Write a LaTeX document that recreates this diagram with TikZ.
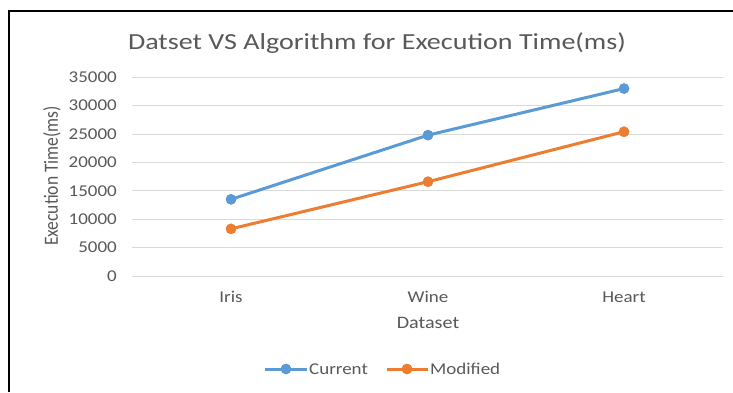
\documentclass[tikz,border=0pt]{standalone}
\usepackage{fontspec}
\setmainfont{Carlito}
\definecolor{cblue}{HTML}{5B9BD5}
\definecolor{corange}{HTML}{ED7D31}
\definecolor{grid}{HTML}{D9D9D9}
\definecolor{txt}{HTML}{595959}
\newcommand\widetxt[1]{\scalebox{1.15}[1]{#1}}
\newcommand\widetitle[1]{\scalebox{1.22}[1]{#1}}
\tikzset{
  gridline/.style={draw=grid, line width=1pt},
  ticklbl/.style={text=txt, font=\fontsize{16.5}{16.5}\selectfont, anchor=east, inner sep=0pt},
  catlbl/.style={text=txt, font=\fontsize{16.5}{16.5}\selectfont, inner sep=0pt},
  axtitle/.style={text=txt, font=\fontsize{17.5}{17.5}\selectfont, inner sep=0pt},
  bluept/.style={circle, fill=cblue, inner sep=0pt, minimum size=10.5pt},
  orangept/.style={circle, fill=corange, inner sep=0pt, minimum size=10.5pt},
  blueline/.style={draw=cblue, line width=3pt},
  orangeline/.style={draw=corange, line width=3pt},
}
\begin{document}
\begin{tikzpicture}[x=1pt,y=-1pt]
\useasboundingbox (0,0) rectangle (733,392);
\fill[white] (0,0) rectangle (733,392);
% frame
\draw[line width=2.4pt] (9,392) -- (9,11) -- (733,11);
% title
\node[text=txt, font=\fontsize{23}{23}\selectfont, inner sep=0pt] (title) at (377,43) {\widetitle{Datset VS Algorithm for Execution Time(ms)}};
% gridlines and tick labels
\foreach \v [count=\i from 0] in {0,5000,10000,15000,20000,25000,30000,35000} {
  \draw[gridline] (132,{276-\i*28.4}) -- (723,{276-\i*28.4});
  \node[ticklbl] (t\i) at (117,{276-\i*28.4}) {\widetxt{\v}};
}
% axis titles
\node[axtitle, rotate=90] (ytitle) at (52,176) {\scalebox{1}[1.15]{Execution Time(ms)}};
\node[axtitle] (xtitle) at (428,323) {\widetxt{Dataset}};
% category labels
\node[catlbl] (ciris) at (231,297) {\widetxt{Iris}};
\node[catlbl] (cwine) at (428,297) {\widetxt{Wine}};
\node[catlbl] (cheart) at (624,297) {\widetxt{Heart}};
% data (values in thousands)
\node[bluept] (c1) at (231,{276-13.5/5*28.4}) {};
\node[bluept] (c2) at (428,{276-24.8/5*28.4}) {};
\node[bluept] (c3) at (624,{276-33.0/5*28.4}) {};
\node[orangept] (m1) at (231,{276-8.3/5*28.4}) {};
\node[orangept] (m2) at (428,{276-16.6/5*28.4}) {};
\node[orangept] (m3) at (624,{276-25.4/5*28.4}) {};
\draw[blueline] (c1.center) -- (c2.center) -- (c3.center);
\draw[orangeline] (m1.center) -- (m2.center) -- (m3.center);
\node[bluept] at (c1) {};\node[bluept] at (c2) {};\node[bluept] at (c3) {};
\node[orangept] at (m1) {};\node[orangept] at (m2) {};\node[orangept] at (m3) {};
% legend
\coordinate (lb1) at (265,369);
\coordinate (lb2) at (307,369);
\node[bluept] (lbm) at (286,369) {};
\draw[blueline] (lb1) -- (lb2);
\node[bluept] at (lbm) {};
\node[catlbl, anchor=west] (lbt) at (309,369) {\widetxt{Current}};
\coordinate (lo1) at (387,369);
\coordinate (lo2) at (428,369);
\node[orangept] (lom) at (407,369) {};
\draw[orangeline] (lo1) -- (lo2);
\node[orangept] at (lom) {};
\node[catlbl, anchor=west] (lot) at (430,369) {\widetxt{Modified}};
\end{tikzpicture}
\end{document}
